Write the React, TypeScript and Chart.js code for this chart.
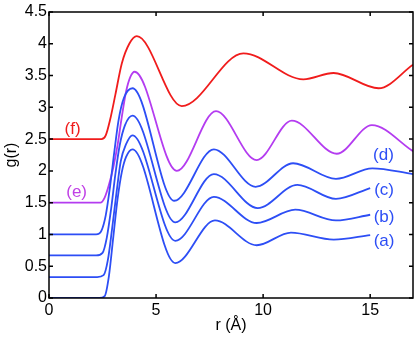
import React, { useEffect, useRef } from "react";
import { Chart, registerables } from "chart.js";

Chart.register(...registerables);

// Curve (a)
const rA = [0, 2.35, 2.6, 2.8, 3.0, 3.2, 3.4, 3.6, 3.9, 5.9, 7.75, 9.7, 11.3, 13.3, 15.0];
const gA = [0, 0, 0.03, 0.35, 0.95, 1.55, 1.98, 2.22, 2.34, 0.55, 1.22, 0.83, 1.03, 0.92, 0.99];
// Curve (b)
const rB = [0, 2.25, 2.55, 2.75, 2.95, 3.15, 3.35, 3.6, 3.9, 5.9, 7.7, 9.7, 11.5, 13.4, 15.0];
const gB = [0.33, 0.33, 0.36, 0.6, 1.1, 1.65, 2.15, 2.42, 2.56, 0.9, 1.59, 1.18, 1.39, 1.22, 1.31];
// Curve (c)
const rC = [0, 2.2, 2.5, 2.7, 2.9, 3.1, 3.3, 3.55, 3.9, 5.9, 7.7, 9.75, 11.6, 13.4, 15.0];
const gC = [0.67, 0.67, 0.71, 0.95, 1.4, 1.95, 2.4, 2.72, 2.87, 1.19, 1.95, 1.415, 1.78, 1.56, 1.73];
// Curve (d)
const rD = [0, 2.2, 2.45, 2.65, 2.85, 3.05, 3.25, 3.5, 3.9, 5.85, 7.7, 9.65, 11.4, 13.4, 15.1, 17];
const gD = [1.0, 1.0, 1.06, 1.3, 1.75, 2.3, 2.8, 3.15, 3.3, 1.53, 2.34, 1.75, 2.12, 1.875, 2.04, 1.95];
// Curve (e)
const rE = [0, 2.4, 2.6, 2.8, 3.0, 3.2, 3.4, 3.6, 3.8, 4.0, 5.97, 7.8, 9.7, 11.34, 13.44, 15.08, 17];
const gE = [1.5, 1.5, 1.58, 1.78, 2.05, 2.4, 2.85, 3.25, 3.48, 3.56, 2.0, 2.94, 2.17, 2.79, 2.27, 2.72, 2.31];
// Curve (f)
const rF = [0, 2.45, 2.65, 2.85, 3.1, 3.4, 3.75, 4.1, 6.2, 9.08, 11.88, 13.29, 15.39, 17];
const gF = [2.5, 2.5, 2.56, 2.8, 3.2, 3.69, 4.0, 4.12, 3.02, 3.85, 3.44, 3.54, 3.3, 3.67];

const labelTexts = ["(a)", "(b)", "(c)", "(d)", "(e)", "(f)"];
const labelR = [15.65, 15.65, 15.65, 15.62, 1.29, 1.1];
const labelG = [0.89, 1.27, 1.69, 2.25, 1.67, 2.65];

const xTicks = [0, 5, 10, 15];
const yTicks = [0, 0.5, 1, 1.5, 2, 2.5, 3, 3.5, 4, 4.5];

const BLUE = "#2d4ef5";
const PURPLE = "#b43cf0";
const RED = "#f01c1c";
const labelColors = [BLUE, BLUE, BLUE, BLUE, "#c040e6", RED];
const FONT = "'Liberation Sans', Arial, Helvetica, sans-serif";

const pts = (r: number[], g: number[]) => r.map((x, i) => ({ x, y: g[i] }));

const framePlugin = {
  id: "frame",
  afterDraw(chart: any) {
    const { ctx, chartArea: a, scales } = chart;
    const xs = scales.x;
    const ys = scales.y;
    ctx.save();
    ctx.strokeStyle = "#000";
    ctx.lineWidth = 1.5;
    ctx.strokeRect(a.left, a.top, a.right - a.left, a.bottom - a.top);
    const tl = 4;
    ctx.beginPath();
    xTicks.forEach((v) => {
      const px = xs.getPixelForValue(v);
      ctx.moveTo(px, a.bottom);
      ctx.lineTo(px, a.bottom - tl);
      ctx.moveTo(px, a.top);
      ctx.lineTo(px, a.top + tl);
    });
    yTicks.forEach((v) => {
      const py = ys.getPixelForValue(v);
      ctx.moveTo(a.left, py);
      ctx.lineTo(a.left + tl, py);
      ctx.moveTo(a.right, py);
      ctx.lineTo(a.right - tl, py);
    });
    ctx.stroke();
    ctx.font = `17px ${FONT}`;
    ctx.textAlign = "center";
    ctx.textBaseline = "middle";
    labelTexts.forEach((t, i) => {
      ctx.fillStyle = labelColors[i];
      ctx.fillText(t, xs.getPixelForValue(labelR[i]), ys.getPixelForValue(labelG[i]));
    });
    ctx.restore();
  },
};

export default function App() {
  const ref = useRef<HTMLCanvasElement>(null);
  useEffect(() => {
    if (!ref.current) return;
    const mk = (r: number[], g: number[], c: string) => ({
      data: pts(r, g),
      borderColor: c,
      backgroundColor: c,
      borderWidth: 1.8,
      pointRadius: 0,
      fill: false,
      cubicInterpolationMode: "monotone" as const,
    });
    const chart = new Chart(ref.current, {
      type: "line",
      data: {
        datasets: [
          mk(rA, gA, BLUE),
          mk(rB, gB, BLUE),
          mk(rC, gC, BLUE),
          mk(rD, gD, BLUE),
          mk(rE, gE, PURPLE),
          mk(rF, gF, RED),
        ],
      },
      options: {
        responsive: false,
        animation: false,
        layout: { padding: { top: 12, right: 2, left: 0, bottom: 0 } },
        plugins: { legend: { display: false }, tooltip: { enabled: false } },
        scales: {
          x: {
            type: "linear",
            min: 0,
            max: 17,
            afterBuildTicks: (s: any) => {
              s.ticks = xTicks.map((v) => ({ value: v }));
            },
            afterFit: (s: any) => {
              s.height = 39;
            },
            ticks: {
              color: "#000",
              font: { size: 16, family: FONT },
              padding: 3,
              maxRotation: 0,
              callback: (v: any) => String(v),
            },
            grid: { display: false, drawTicks: false },
            border: { display: false },
            title: {
              display: true,
              text: "r (Å)",
              color: "#000",
              font: { size: 16, family: FONT },
              padding: { top: 0, bottom: 2 },
            },
          },
          y: {
            type: "linear",
            min: 0,
            max: 4.5,
            afterBuildTicks: (s: any) => {
              s.ticks = yTicks.map((v) => ({ value: v }));
            },
            afterFit: (s: any) => {
              s.width = 49;
            },
            ticks: {
              color: "#000",
              font: { size: 16, family: FONT },
              padding: 2,
              callback: (v: any) => String(v),
            },
            grid: { display: false, drawTicks: false },
            border: { display: false },
            title: {
              display: true,
              text: "g(r)",
              color: "#000",
              font: { size: 16, family: FONT },
              padding: { top: 2, bottom: 0 },
            },
          },
        },
      },
      plugins: [framePlugin],
    } as any);
    return () => chart.destroy();
  }, []);
  return (
    <div style={{ position: "absolute", left: 0, top: 0, width: 415, height: 337, background: "#fff" }}>
      <canvas ref={ref} width={415} height={337} />
    </div>
  );
}
